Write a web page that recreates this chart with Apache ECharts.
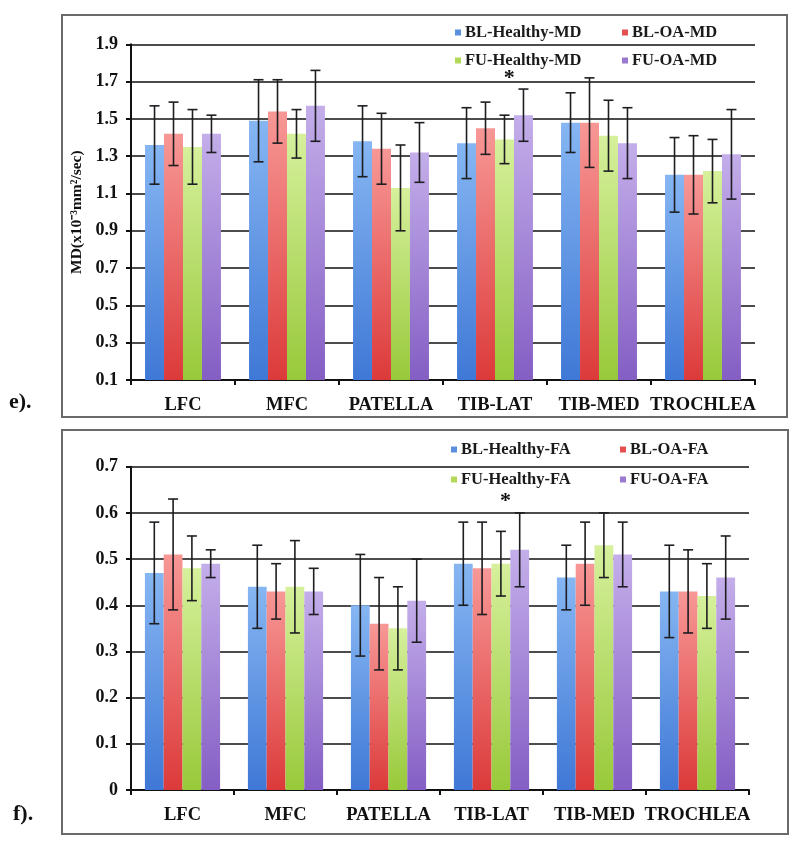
<!DOCTYPE html>
<html>
<head>
<meta charset="utf-8">
<script src="https://cdn.jsdelivr.net/npm/echarts@6/dist/echarts.min.js"></script>
<style>
html,body{margin:0;padding:0;background:#fff;}
#c{width:800px;height:847px;}
</style>
</head>
<body>
<div id="c"></div>
<script>
// ---------- data ----------
const CATEGORIES = ['LFC', 'MFC', 'PATELLA', 'TIB-LAT', 'TIB-MED', 'TROCHLEA'];

const MD_NAMES = ['BL-Healthy-MD', 'BL-OA-MD', 'FU-Healthy-MD', 'FU-OA-MD'];
const BL_HEALTHY_MD = [1.36, 1.49, 1.38, 1.37, 1.48, 1.20];
const BL_OA_MD      = [1.42, 1.54, 1.34, 1.45, 1.48, 1.20];
const FU_HEALTHY_MD = [1.35, 1.42, 1.13, 1.39, 1.41, 1.22];
const FU_OA_MD      = [1.42, 1.57, 1.32, 1.52, 1.37, 1.31];
const BL_HEALTHY_MD_SD = [0.21, 0.22, 0.19, 0.19, 0.16, 0.20];
const BL_OA_MD_SD      = [0.17, 0.17, 0.19, 0.14, 0.24, 0.21];
const FU_HEALTHY_MD_SD = [0.20, 0.13, 0.23, 0.13, 0.19, 0.17];
const FU_OA_MD_SD      = [0.10, 0.19, 0.16, 0.14, 0.19, 0.24];
const MD_TICKS = [0.1, 0.3, 0.5, 0.7, 0.9, 1.1, 1.3, 1.5, 1.7, 1.9];
const MD_SIG = [['TIB-LAT', 1.72]];

const FA_NAMES = ['BL-Healthy-FA', 'BL-OA-FA', 'FU-Healthy-FA', 'FU-OA-FA'];
const BL_HEALTHY_FA = [0.47, 0.44, 0.40, 0.49, 0.46, 0.43];
const BL_OA_FA      = [0.51, 0.43, 0.36, 0.48, 0.49, 0.43];
const FU_HEALTHY_FA = [0.48, 0.44, 0.35, 0.49, 0.53, 0.42];
const FU_OA_FA      = [0.49, 0.43, 0.41, 0.52, 0.51, 0.46];
const BL_HEALTHY_FA_SD = [0.11, 0.09, 0.11, 0.09, 0.07, 0.10];
const BL_OA_FA_SD      = [0.12, 0.06, 0.10, 0.10, 0.09, 0.09];
const FU_HEALTHY_FA_SD = [0.07, 0.10, 0.09, 0.07, 0.07, 0.07];
const FU_OA_FA_SD      = [0.03, 0.05, 0.09, 0.08, 0.07, 0.09];
const FA_TICKS = [0, 0.1, 0.2, 0.3, 0.4, 0.5, 0.6, 0.7];
const FA_SIG = [['TIB-LAT', 0.625]];

// ---------- styles ----------
const SERIF = '"Liberation Serif", "Times New Roman", serif';
const COLORS = [
  ['#86b6f2', '#3f78d6'],
  ['#f79896', '#dc3a3a'],
  ['#d6f09c', '#98c93a'],
  ['#c4aeea', '#845ec4']
];
const LEGEND_COLORS = ['#5a8fdf', '#e45050', '#b2d95a', '#9a7ad0'];
const CAT_GAP = 0.27;
const N = 4;

function grad(c) {
  return {type: 'linear', x: 0, y: 0, x2: 0, y2: 1,
    colorStops: [{offset: 0, color: c[0]}, {offset: 1, color: c[1]}]};
}

function errRender(pos) {
  return function (params, api) {
    const idx = api.value(0), lo = api.value(1), hi = api.value(2);
    const band = api.size([1, 0])[0];
    const total = band * (1 - CAT_GAP);
    const bw = total / N;
    const pLo = api.coord([idx, lo]);
    const pHi = api.coord([idx, hi]);
    const x = pLo[0] - total / 2 + bw * (pos + 0.5);
    const cap = 5;
    const st = {stroke: '#1e1e22', lineWidth: 1.6};
    return {type: 'group', children: [
      {type: 'line', shape: {x1: x, y1: pLo[1], x2: x, y2: pHi[1]}, style: st},
      {type: 'line', shape: {x1: x - cap, y1: pLo[1], x2: x + cap, y2: pLo[1]}, style: st},
      {type: 'line', shape: {x1: x - cap, y1: pHi[1], x2: x + cap, y2: pHi[1]}, style: st}
    ]};
  };
}

function sigRender(pos) {
  return function (params, api) {
    const idx = api.value(0), v = api.value(1);
    const band = api.size([1, 0])[0];
    const total = band * (1 - CAT_GAP);
    const bw = total / N;
    const p = api.coord([idx, v]);
    const x = p[0] - total / 2 + bw * (pos + 0.75);
    return {type: 'text', x: x, y: p[1],
      style: {text: '*', font: 'bold 22px ' + SERIF, fill: '#111', align: 'center', verticalAlign: 'middle'}};
  };
}

function buildSeries(names, means, sds, sig, axisIdx) {
  const out = [];
  names.forEach((nm, i) => {
    out.push({
      name: nm, type: 'bar', xAxisIndex: axisIdx, yAxisIndex: axisIdx,
      data: means[i], barGap: '0%', barCategoryGap: (CAT_GAP * 100) + '%',
      itemStyle: {color: grad(COLORS[i])}, z: 2
    });
  });
  names.forEach((nm, i) => {
    out.push({
      name: nm, type: 'custom', xAxisIndex: axisIdx, yAxisIndex: axisIdx,
      renderItem: errRender(i),
      data: means[i].map((m, k) => [k, +(m - sds[i][k]).toFixed(3), +(m + sds[i][k]).toFixed(3)]),
      encode: {x: 0, y: [1, 2]}, z: 5, silent: true
    });
  });
  out.push({
    type: 'custom', xAxisIndex: axisIdx, yAxisIndex: axisIdx,
    renderItem: sigRender(2),
    data: sig.map(s => [CATEGORIES.indexOf(s[0]), s[1]]),
    encode: {x: 0, y: 1}, z: 6, silent: true
  });
  return out;
}

function legendAt(name, color, left, top) {
  return {
    data: [{name: name, itemStyle: {color: color}}],
    left: left, top: top, icon: 'rect', itemWidth: 6, itemHeight: 6,
    itemGap: 0, padding: 0,
    textStyle: {fontFamily: SERIF, fontWeight: 'bold', fontSize: 16.5, color: '#1a1a1a', padding: [0, 0, 0, -1]}
  };
}

const axisLabelStyle = {fontFamily: SERIF, fontWeight: 'bold', fontSize: 18, color: '#111'};
const lineStyleAxis = {color: '#111', width: 2};

const chart = echarts.init(document.getElementById('c'), null, {renderer: 'canvas'});
const option = {
  animation: false,
  backgroundColor: '#fff',
  graphic: [
    {type: 'rect', shape: {x: 62, y: 15, width: 725, height: 402}, style: {fill: 'none', stroke: '#6a6a6a', lineWidth: 2}},
    {type: 'rect', shape: {x: 62, y: 430, width: 726, height: 404}, style: {fill: 'none', stroke: '#6a6a6a', lineWidth: 2}},
    {type: 'text', x: 9, y: 402, style: {text: 'e).', font: 'bold 22px ' + SERIF, fill: '#111', verticalAlign: 'middle'}},
    {type: 'text', x: 13, y: 814, style: {text: 'f).', font: 'bold 22px ' + SERIF, fill: '#111', verticalAlign: 'middle'}}
  ],
  legend: [
    legendAt(MD_NAMES[0], LEGEND_COLORS[0], 455, 24),
    legendAt(MD_NAMES[1], LEGEND_COLORS[1], 622, 24),
    legendAt(MD_NAMES[2], LEGEND_COLORS[2], 455, 52),
    legendAt(MD_NAMES[3], LEGEND_COLORS[3], 622, 52),
    legendAt(FA_NAMES[0], LEGEND_COLORS[0], 451, 441),
    legendAt(FA_NAMES[1], LEGEND_COLORS[1], 620, 441),
    legendAt(FA_NAMES[2], LEGEND_COLORS[2], 451, 471),
    legendAt(FA_NAMES[3], LEGEND_COLORS[3], 620, 471)
  ],
  grid: [
    {left: 131, top: 44.3, width: 624, height: 335.7, containLabel: false},
    {left: 131, top: 466.7, width: 618, height: 323.3, containLabel: false}
  ],
  xAxis: [0, 1].map(g => ({
    type: 'category', gridIndex: g, data: CATEGORIES,
    axisLine: {lineStyle: lineStyleAxis},
    axisTick: {show: true, length: 5, lineStyle: {color: '#111', width: 2}},
    axisLabel: Object.assign({interval: 0, margin: 16}, axisLabelStyle, {fontSize: 18.5}),
    splitLine: {show: false}
  })),
  yAxis: [
    {
      type: 'value', gridIndex: 0, min: 0.1, max: 1.9,
      name: 'MD(x10⁻³mm²/sec)', nameLocation: 'middle', nameRotate: 90, nameGap: 46,
      nameTextStyle: {fontFamily: SERIF, fontWeight: 'bold', fontSize: 15.5, color: '#111'},
      axisLine: {show: true, lineStyle: lineStyleAxis},
      axisTick: {show: true, length: 5, customValues: MD_TICKS, lineStyle: {color: '#111', width: 2}},
      axisLabel: Object.assign({margin: 13, customValues: MD_TICKS, formatter: v => v.toFixed(1)}, axisLabelStyle),
      splitLine: {show: true, lineStyle: {color: '#111', width: 1.5}}
    },
    {
      type: 'value', gridIndex: 1, min: 0, max: 0.7, interval: 0.1,
      axisLine: {show: true, lineStyle: lineStyleAxis},
      axisTick: {show: true, length: 5, lineStyle: {color: '#111', width: 2}},
      axisLabel: Object.assign({margin: 13, formatter: v => (v === 0 ? '0' : v.toFixed(1))}, axisLabelStyle),
      splitLine: {show: true, lineStyle: {color: '#111', width: 1.5}}
    }
  ],
  series: [].concat(
    buildSeries(MD_NAMES,
      [BL_HEALTHY_MD, BL_OA_MD, FU_HEALTHY_MD, FU_OA_MD],
      [BL_HEALTHY_MD_SD, BL_OA_MD_SD, FU_HEALTHY_MD_SD, FU_OA_MD_SD], MD_SIG, 0),
    buildSeries(FA_NAMES,
      [BL_HEALTHY_FA, BL_OA_FA, FU_HEALTHY_FA, FU_OA_FA],
      [BL_HEALTHY_FA_SD, BL_OA_FA_SD, FU_HEALTHY_FA_SD, FU_OA_FA_SD], FA_SIG, 1)
  )
};
chart.setOption(option);
</script>
</body>
</html>
